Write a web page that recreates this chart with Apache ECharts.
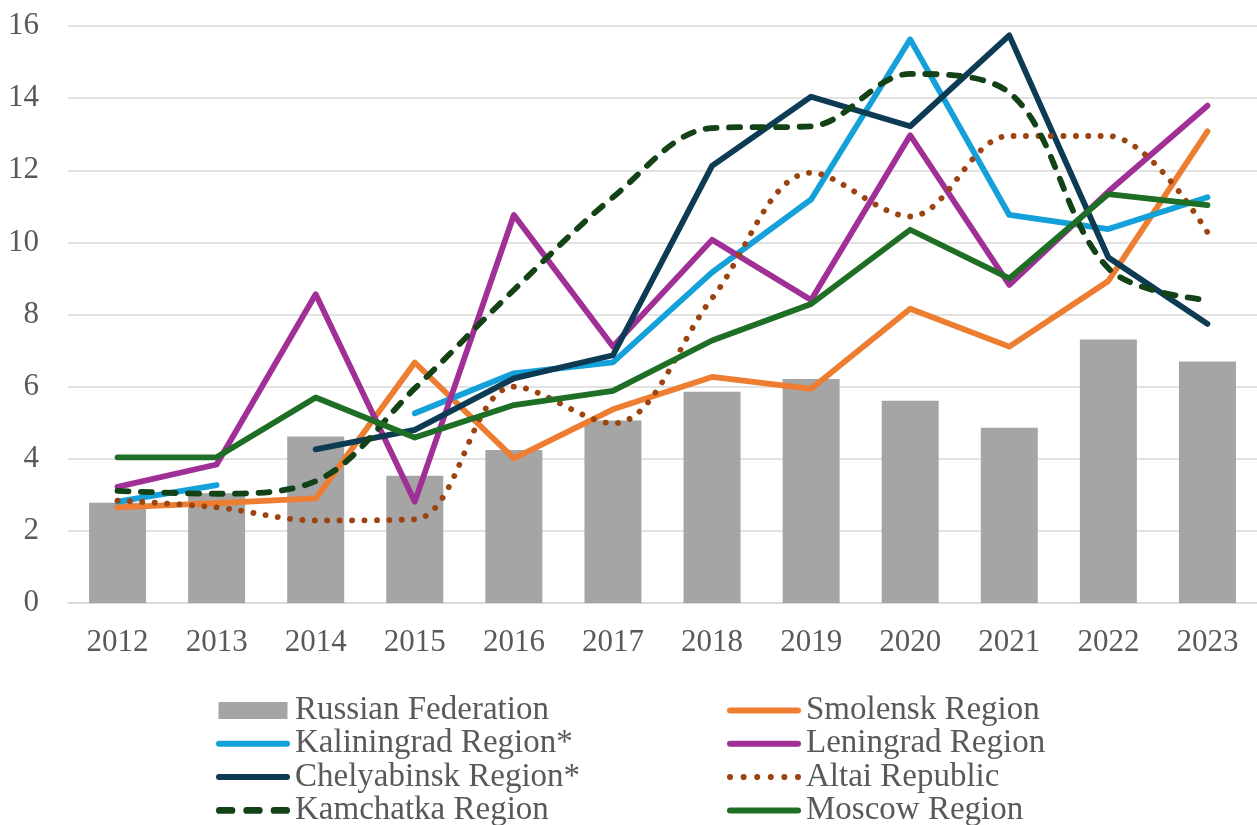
<!DOCTYPE html>
<html>
<head>
<meta charset="utf-8">
<script src="https://cdn.jsdelivr.net/npm/echarts@6/dist/echarts.min.js"></script>
<style>
html,body{margin:0;padding:0;background:#fff;}
#chart{width:1257px;height:825px;}
</style>
</head>
<body>
<div id="chart"></div>
<script>
const years = ['2012','2013','2014','2015','2016','2017','2018','2019','2020','2021','2022','2023'];
const yTicks = [0, 2, 4, 6, 8, 10, 12, 14, 16];
const russianFederation = [2.78, 3.04, 4.62, 3.53, 4.24, 5.06, 5.86, 6.21, 5.61, 4.86, 7.31, 6.70];
const smolensk = [2.65, 2.77, 2.90, 6.67, 4.01, 5.37, 6.27, 5.94, 8.16, 7.11, 8.93, 13.08];
const kaliningrad = [2.81, 3.27, null, 5.26, 6.37, 6.67, 9.17, 11.19, 15.63, 10.76, 10.37, 11.25];
const leningrad = [3.22, 3.84, 8.56, 2.81, 10.76, 7.11, 10.07, 8.40, 12.97, 8.82, 11.41, 13.79];
const chelyabinsk = [null, null, 4.26, 4.80, 6.23, 6.87, 12.12, 14.04, 13.22, 15.74, 9.58, 7.74];
const altai = [2.84, 2.65, 2.29, 2.32, 6.00, 4.98, 8.45, 11.93, 10.72, 12.95, 12.95, 10.28];
const kamchatka = [3.11, 3.03, 3.38, 5.95, 8.68, 11.25, 13.17, 13.22, 14.67, 14.15, 9.28, 8.40];
const moscow = [4.04, 4.04, 5.70, 4.59, 5.49, 5.88, 7.28, 8.29, 10.35, 9.00, 11.34, 11.03];

const FONT = '"Liberation Serif", "Times New Roman", serif';
const TXT = '#595959';
const LW = 5.8;

const C = {
  rf: '#A5A5A5', smolensk: '#ED7D31', kaliningrad: '#14A1D9', leningrad: '#A02F96',
  chelyabinsk: '#0E3B54', altai: '#9C4312', kamchatka: '#134216', moscow: '#1F6E25'
};

// legend icon shapes
const ICON_BAR = 'path://M0,0H69V17H0Z';
const ICON_LINE = 'path://M3,0H71A3,3,0,0,1,71,6H3A3,3,0,0,1,3,0Z';
const ICON_DASH = 'path://M3,0H14A3,3,0,0,1,14,6H3A3,3,0,0,1,3,0Z M27,0H38A3,3,0,0,1,38,6H27A3,3,0,0,1,27,0Z M51,0H62A3,3,0,0,1,62,6H51A3,3,0,0,1,51,0Z';
function dots(n, step, r) {
  let p = 'path://';
  for (let i = 0; i < n; i++) {
    const cx = r + i * step;
    p += 'M' + (cx - r) + ',' + r + 'A' + r + ',' + r + ',0,1,0,' + (cx + r) + ',' + r + 'A' + r + ',' + r + ',0,1,0,' + (cx - r) + ',' + r + 'Z';
  }
  return p;
}
const ICON_DOT = dots(6, 12.5, 2.8);

function lineSeries(name, data, color, extra) {
  return Object.assign({
    name: name,
    type: 'line',
    data: data,
    showSymbol: false,
    symbol: 'none',
    connectNulls: false,
    lineStyle: { color: color, width: LW, cap: 'round', join: 'round' },
    itemStyle: { color: color }
  }, extra || {});
}

const legendText = { fontFamily: FONT, fontSize: 33, color: TXT, lineHeight: 33 };

const chart = echarts.init(document.getElementById('chart'), null, { renderer: 'canvas' });
chart.setOption({
  animation: false,
  backgroundColor: '#ffffff',
  grid: { left: 68, top: 26, width: 1190, height: 577, containLabel: false },
  legend: [
    {
      data: [
        { name: 'Russian Federation', icon: ICON_BAR, itemStyle: { color: C.rf } },
        { name: 'Kaliningrad Region*', icon: ICON_LINE, itemStyle: { color: C.kaliningrad } },
        { name: 'Chelyabinsk Region*', icon: ICON_LINE, itemStyle: { color: C.chelyabinsk } },
        { name: 'Kamchatka Region', icon: ICON_DASH, itemStyle: { color: C.kamchatka } }
      ],
      orient: 'vertical', left: 216, top: 694, height: 160, padding: 0,
      itemWidth: 74, itemHeight: 17, itemGap: 0.3,
      textStyle: legendText
    },
    {
      data: [
        { name: 'Smolensk Region', icon: ICON_LINE, itemStyle: { color: C.smolensk } },
        { name: 'Leningrad Region', icon: ICON_LINE, itemStyle: { color: C.leningrad } },
        { name: 'Altai Republic', icon: ICON_DOT, itemStyle: { color: C.altai } },
        { name: 'Moscow Region', icon: ICON_LINE, itemStyle: { color: C.moscow } }
      ],
      orient: 'vertical', left: 727, top: 694, height: 160, padding: 0,
      itemWidth: 74, itemHeight: 17, itemGap: 0.3,
      textStyle: legendText
    }
  ],
  xAxis: {
    type: 'category',
    data: years,
    boundaryGap: true,
    axisLine: { lineStyle: { color: '#D9D9D9', width: 1.5 } },
    axisTick: { show: false },
    axisLabel: { fontFamily: FONT, fontSize: 31, color: TXT, margin: 24 }
  },
  yAxis: {
    type: 'value',
    min: yTicks[0], max: yTicks[yTicks.length - 1], interval: 2,
    axisLine: { show: false },
    axisTick: { show: false },
    splitLine: { lineStyle: { color: '#D9D9D9', width: 1.5 } },
    axisLabel: { fontFamily: FONT, fontSize: 31, color: TXT, margin: 29 }
  },
  series: [
    {
      name: 'Russian Federation', type: 'bar', data: russianFederation,
      barWidth: 57, itemStyle: { color: C.rf }
    },
    lineSeries('Smolensk Region', smolensk, C.smolensk),
    lineSeries('Kaliningrad Region*', kaliningrad, C.kaliningrad),
    lineSeries('Leningrad Region', leningrad, C.leningrad),
    lineSeries('Chelyabinsk Region*', chelyabinsk, C.chelyabinsk),
    lineSeries('Altai Republic', altai, C.altai, {
      smooth: 0.35,
      lineStyle: { color: C.altai, width: LW, type: [0.1, 12.3], cap: 'round', join: 'round' }
    }),
    lineSeries('Kamchatka Region', kamchatka, C.kamchatka, {
      smooth: 0.35,
      lineStyle: { color: C.kamchatka, width: LW, type: [11, 12.5], cap: 'round', join: 'round' }
    }),
    lineSeries('Moscow Region', moscow, C.moscow)
  ]
});
</script>
</body>
</html>
